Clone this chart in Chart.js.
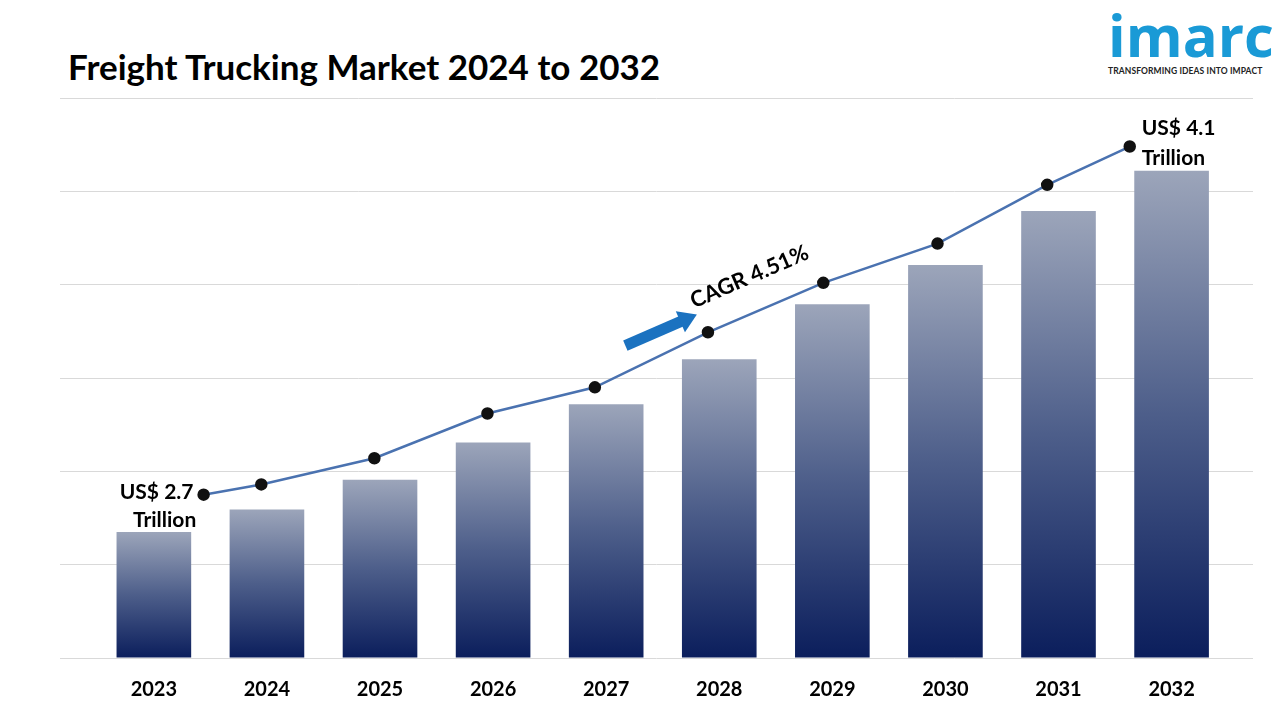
<!DOCTYPE html>
<html lang="en">
<head>
<meta charset="UTF-8">
<title>Freight Trucking Market</title>
<script src="https://cdn.jsdelivr.net/npm/chart.js"></script>
<style>
  body { margin: 0; background: #fff; font-family: Lato, Arial, sans-serif; }
  #wrap { position: relative; width: 1280px; height: 720px; }
  h1 { position: absolute; left: 68px; top: 45px; margin: 0; font-size: 35px; font-weight: 700; color: #000; }
  #logo { position: absolute; left: 1108px; top: 4px; width: 170px; text-align: left; }
  #logo .big { font-family: "Open Sans", Arial, sans-serif; font-size: 58px; font-weight: 700; color: #1a9ad6; letter-spacing: 0px; line-height: 62px; }
  #logo .small { font-size: 8.5px; font-weight: 700; color: #222; letter-spacing: 0.1px; }
  canvas { position: absolute; left: 0; top: 0; }
</style>
</head>
<body>
<div id="wrap">
  <h1>Freight Trucking Market 2024 to 2032</h1>
  <div id="logo"><div class="big">imarc</div><div class="small">TRANSFORMING IDEAS INTO IMPACT</div></div>
  <canvas id="chart" width="1280" height="720"></canvas>
</div>
<script>
// values in grid units
let years = ["2023", "2024", "2025", "2026", "2027", "2028", "2029", "2030", "2031", "2032"];
let barValues = [1.35, 1.59, 1.91, 2.31, 2.72, 3.2, 3.79, 4.21, 4.79, 5.22];
let lineX = [0.44, 0.95, 1.95, 2.95, 3.9, 4.9, 5.92, 6.93, 7.9, 8.63];
let lineValues = [1.75, 1.86, 2.14, 2.62, 2.9, 3.49, 4.02, 4.44, 5.07, 5.48];
let startLabel = ["US$ 2.7", "Trillion"];
let endLabel = ["US$ 4.1", "Trillion"];
let cagrText = "CAGR 4.51%";

function barGradient(c) {
  let chart = c.chart;
  if (!chart.chartArea || c.parsed === undefined) return "#1c2d6b";
  let y = chart.scales.y;
  let top = y.getPixelForValue(c.parsed.y);
  let bottom = y.getPixelForValue(0);
  let g = chart.ctx.createLinearGradient(0, top, 0, bottom);
  g.addColorStop(0, "#9ca5ba");
  g.addColorStop(0.5, "#4d5e8a");
  g.addColorStop(1, "#0b1e5c");
  return g;
}

let extras = {
  id: "extras",
  afterDatasetsDraw(chart) {
    let ctx = chart.ctx;
    let pts = chart.getDatasetMeta(1).data;
    ctx.save();
    ctx.fillStyle = "#000";
    ctx.font = "bold 21px Lato, Arial, sans-serif";
    ctx.textAlign = "center";
    let p0 = pts[0];
    ctx.fillText(startLabel[0], p0.x - 47, p0.y + 4);
    ctx.fillText(startLabel[1], p0.x - 39, p0.y + 32);
    let pn = pts[pts.length - 1];
    ctx.textAlign = "left";
    ctx.fillText(endLabel[0], pn.x + 12, pn.y - 12);
    ctx.fillText(endLabel[1], pn.x + 12, pn.y + 18);
    // CAGR arrow + text
    ctx.translate(660, 330);
    ctx.rotate(-0.41);
    ctx.fillStyle = "#1b72c0";
    ctx.fillRect(-38, -5, 62, 11);
    ctx.beginPath();
    ctx.moveTo(22, -11); ctx.lineTo(40, 0.5); ctx.lineTo(22, 12); ctx.closePath();
    ctx.fill();
    ctx.fillStyle = "#000";
    ctx.font = "bold 22px Lato, Arial, sans-serif";
    ctx.fillText(cagrText, 40, -6);
    ctx.restore();
  }
};

new Chart(document.getElementById("chart"), {
  data: {
    datasets: [
      { type: "bar", data: barValues.map((v, i) => ({ x: i, y: v })), backgroundColor: barGradient,
        barPercentage: 0.66, categoryPercentage: 1, grouped: false, order: 2 },
      { type: "line", data: lineX.map((x, i) => ({ x: x, y: lineValues[i] })),
        borderColor: "#4a72b0", borderWidth: 2.5, pointBackgroundColor: "#111", pointBorderColor: "#111",
        pointRadius: 5, tension: 0, order: 1 }
    ]
  },
  options: {
    responsive: false, animation: false,
    layout: { padding: { left: 60, right: 27, top: 98, bottom: 6 } },
    plugins: { legend: { display: false }, tooltip: { enabled: false } },
    scales: {
      x: { type: "linear", offset: false, min: -0.83, max: 9.72, grid: { display: false }, border: { display: false },
           afterBuildTicks: a => { a.ticks = years.map((y, i) => ({ value: i })); },
           ticks: { color: "#000", font: { family: "Lato, Arial, sans-serif", size: 20, weight: "bold" }, padding: 12,
                    callback: v => years[v] } },
      y: { min: 0, max: 6, ticks: { display: false, stepSize: 1 }, border: { display: false },
           grid: { color: "#d9d9d9", drawTicks: false } }
    }
  },
  plugins: [extras]
});
</script>
</body>
</html>
